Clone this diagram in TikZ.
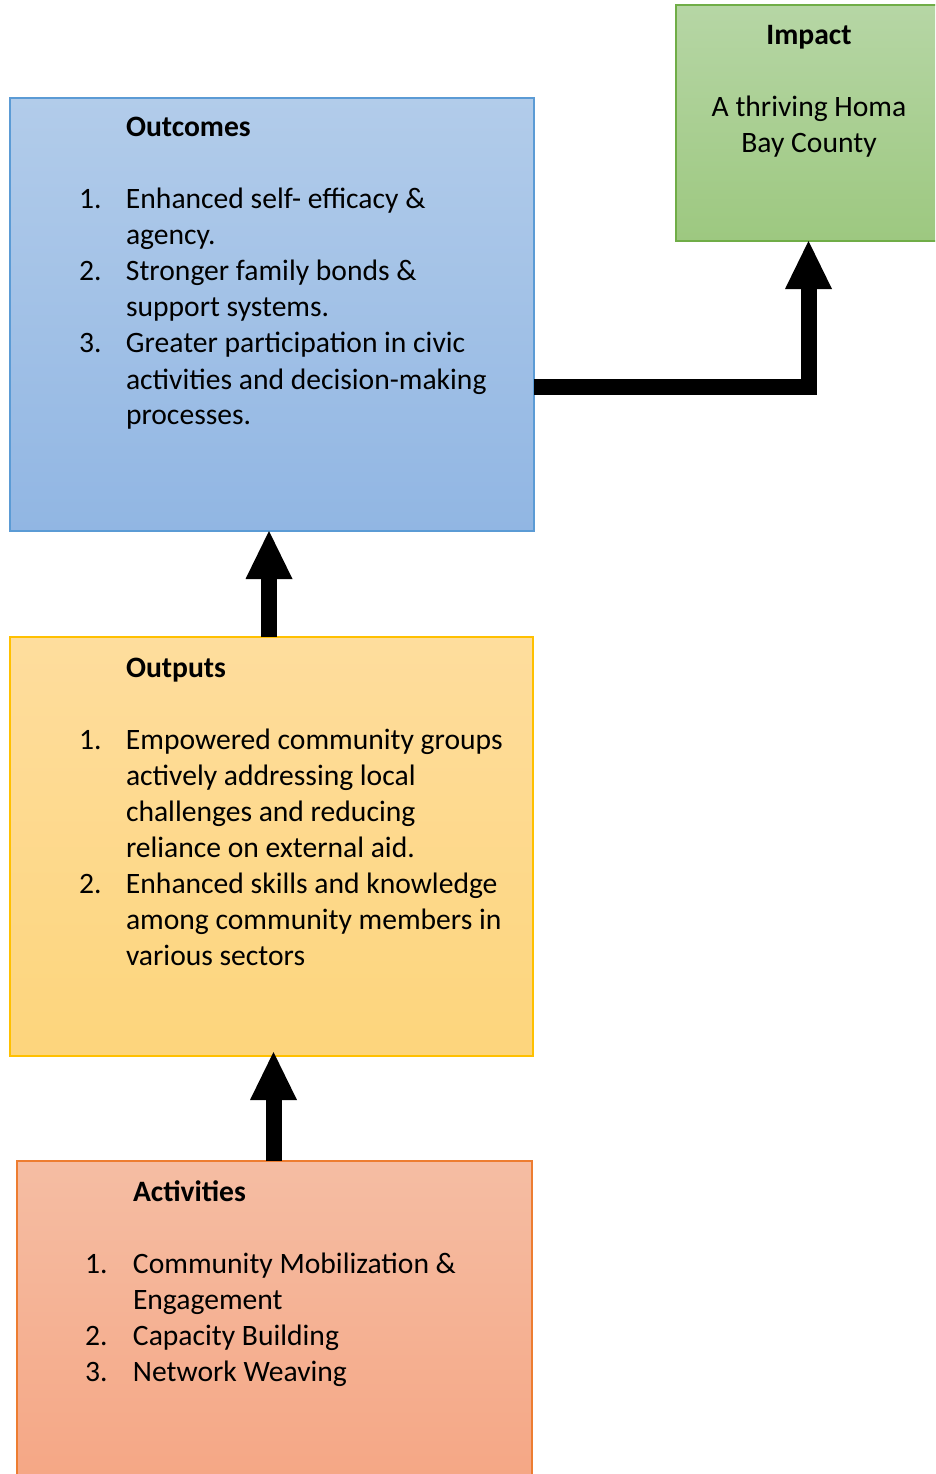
\documentclass[tikz,border=0pt]{standalone}
\usepackage{fontspec}
\setmainfont{Carlito}
\usetikzlibrary{arrows.meta}
\definecolor{bluetop}{RGB}{178,204,234}
\definecolor{bluebot}{RGB}{145,182,227}
\definecolor{blueline}{RGB}{91,155,213}
\definecolor{yeltop}{RGB}{254,221,157}
\definecolor{yelbot}{RGB}{253,213,124}
\definecolor{yelline}{RGB}{255,192,0}
\definecolor{orgtop}{RGB}{245,189,163}
\definecolor{orgbot}{RGB}{245,166,132}
\definecolor{orgline}{RGB}{237,125,49}
\definecolor{grntop}{RGB}{182,214,165}
\definecolor{grnbot}{RGB}{157,200,128}
\definecolor{grnline}{RGB}{112,173,71}
\begin{document}
\begin{tikzpicture}[x=1pt,y=-1pt,
  box/.style={rectangle, inner sep=0pt, outer sep=0pt, line width=1.2pt, anchor=north west},
  txt/.style={inner sep=0pt, outer sep=0pt, font=\fontsize{29.6}{36}\selectfont},
  bigarrow/.style={line width=16pt, line join=miter, -{Triangle[width=47pt,length=48pt,line width=0pt]}}]
\useasboundingbox (0,0) rectangle (935,1474);
\clip (0,0) rectangle (935,1474);
% boxes
\node[box, minimum width=267pt, minimum height=236pt, top color=grntop, bottom color=grnbot, draw=grnline] (imp) at (676,5) {};
\node[box, minimum width=524pt, minimum height=433pt, top color=bluetop, bottom color=bluebot, draw=blueline] (outc) at (10,98) {};
\node[box, minimum width=523pt, minimum height=419pt, top color=yeltop, bottom color=yelbot, draw=yelline] (outp) at (10,637) {};
\node[box, minimum width=515pt, minimum height=330pt, top color=orgtop, bottom color=orgbot, draw=orgline] (act) at (17,1161) {};
% texts
\node[txt, anchor=base] (impt) at (809,45) {\begin{tabular}[t]{@{}c@{}}
\textbf{Impact}\\
\\
A thriving Homa\\
Bay County
\end{tabular}};
\node[txt, anchor=base west] (outct) at (79,137) {\begin{tabular}[t]{@{}p{47pt}@{}l@{}}
 & \textbf{Outcomes}\\
 & \\
1. & Enhanced self- efficacy \&\\
 & agency.\\
2. & Stronger family bonds \&\\
 & support systems.\\
3. & Greater participation in civic\\
 & activities and decision-making\\
 & processes.
\end{tabular}};
\node[txt, anchor=base west] (outpt) at (79,677) {\begin{tabular}[t]{@{}p{47pt}@{}l@{}}
 & \textbf{Outputs}\\
 & \\
1. & Empowered community groups\\
 & actively addressing local\\
 & challenges and reducing\\
 & reliance on external aid.\\
2. & Enhanced skills and knowledge\\
 & among community members in\\
 & various sectors
\end{tabular}};
\node[txt, anchor=base west] (actt) at (85,1201) {\begin{tabular}[t]{@{}p{48pt}@{}l@{}}
 & \textbf{Activities}\\
 & \\
1. & Community Mobilization \&\\
 & Engagement\\
2. & Capacity Building\\
3. & Network Weaving
\end{tabular}};
% arrows
\coordinate (a1) at (269,0);
\coordinate (a2) at (273.5,1052);
\coordinate (a3) at (808.5,387);
\draw[bigarrow] (outp.north -| a1) -- (outc.south -| a1);
\draw[bigarrow] (act.north -| a2) -- (a2);
\draw[bigarrow] (outc.east |- a3) -- (a3) -- (imp.south -| a3);
\end{tikzpicture}
\end{document}
